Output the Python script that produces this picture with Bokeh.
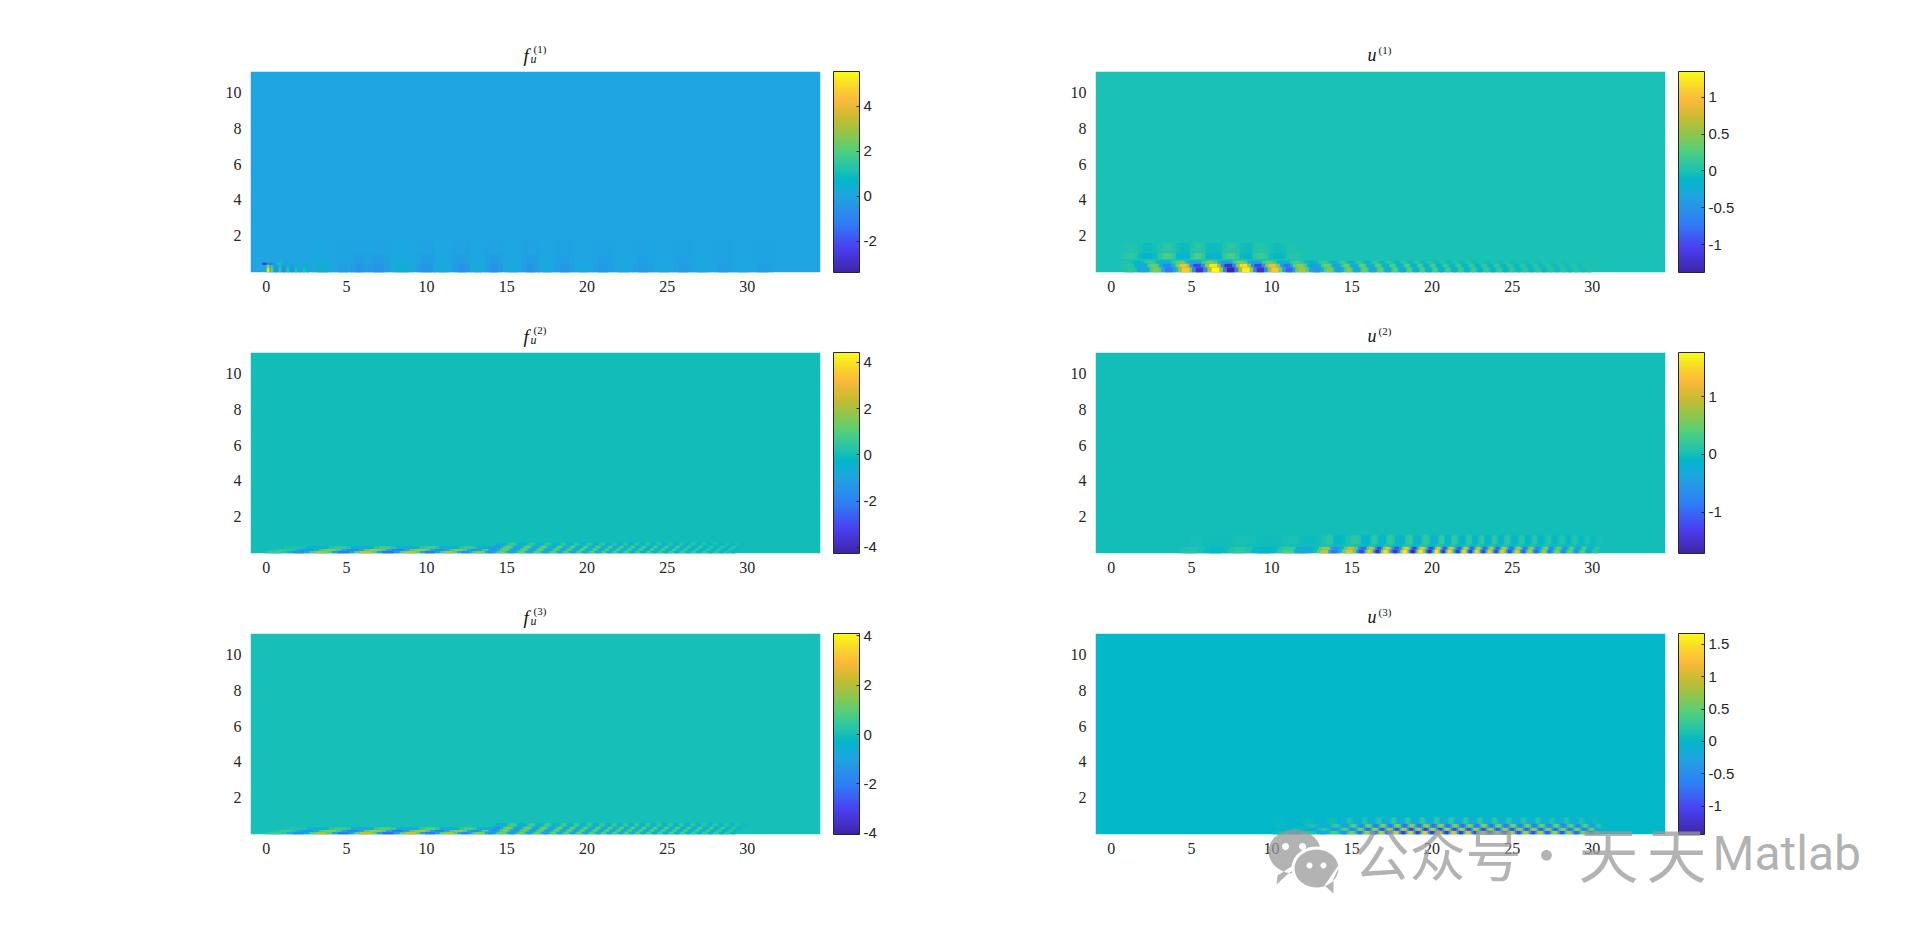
import math
from bokeh.plotting import figure
from bokeh.layouts import column, row
from bokeh.core.properties import value
from bokeh.models import ColumnDataSource, LinearColorMapper, ColorBar, FixedTicker, Range1d
from bokeh.embed import file_html
from bokeh.resources import INLINE
import numpy as np

# ---------- data ----------
X_TICKS = [0, 5, 10, 15, 20, 25, 30]
Y_TICKS = [2, 4, 6, 8, 10]
X_RANGE = (-0.98, 34.56)
Y_RANGE = (-0.05, 11.17)

F1_LIM = (-3.39, 5.54); F1_TICKS = [-2, 0, 2, 4]
U1_LIM = (-1.38, 1.35); U1_TICKS = [-1, -0.5, 0, 0.5, 1]
F2_LIM = (-4.26, 4.42); F2_TICKS = [-4, -2, 0, 2, 4]
U2_LIM = (-1.72, 1.77); U2_TICKS = [-1, 0, 1]
F3_LIM = (-4.05, 4.10); F3_TICKS = [-4, -2, 0, 2, 4]
U3_LIM = (-1.44, 1.67); U3_TICKS = [-1, -0.5, 0, 0.5, 1, 1.5]

# f1: sharp spot next to x=0, then broad faint columns
F1_SPOT_X = [0.12, 0.35, 0.6, 0.85, 1.1, 1.35, 1.6, 1.85, 2.1, 2.35, 2.6]
F1_SPOT_V = [5.0, 2.4, -0.8, 1.5, -1.0, 1.3, -0.7, 1.2, 0.1, 1.2, 0.6]
F1_SPOT_Y = [-0.05, 0.2, 0.38]
F1_SPOT_S = [0.0, 0.0]
F1_SPOT_G = [1.0, 0.7]
F1_LINE_X = [-0.1, 0.3, 0.8, 1.3]
F1_LINE_V = [-3.0, -1.4, 1.2, 0.6]
F1_LINE_Y = [0.38, 0.5]
F1_LINE_S = [0.0]
F1_LINE_G = [1.0]
F1_COL_X = [3.5, 4.8, 5.8, 7.0, 8.5, 10.0, 11.0, 12.2, 13.2, 14.2, 15.4, 16.5, 17.5, 18.6, 19.8, 21.0, 22.3, 23.5, 24.8, 26.0, 27.2, 28.5, 29.7, 31.0]
F1_COL_V = [0.4, -0.2, -0.45, -0.5, 0.4, -0.5, 0.25, -0.5, 0.2, -0.5, 0.2, -0.45, 0.15, -0.4, 0.15, -0.35, 0.1, -0.3, 0.1, -0.25, 0.1, -0.2, 0.08, -0.15]
F1_COL_Y = [-0.05, 0.45, 0.95, 1.8]
F1_COL_S = [0.0, 0.0, 0.0]
F1_COL_G = [1.0, 0.5, 0.16]

U1_X = [1.2, 2.0, 2.8, 3.6, 4.65, 5.5, 6.5, 7.45, 8.4, 9.3, 10.2, 11.1, 11.9, 12.8, 13.6, 14.2, 14.8, 15.3, 15.8, 16.3, 16.8, 17.25, 17.7, 18.15, 18.6, 19.0, 19.4, 19.8, 20.2, 20.6, 21.0, 21.4, 21.8, 22.2, 22.6, 23.0, 23.4, 23.8, 24.2, 24.6, 25.0, 25.4, 25.8, 26.2, 26.6, 27.0, 27.4, 27.8, 28.2, 28.6, 29.0, 29.4, 29.8]
U1_V = [0.1, -0.35, 0.45, -0.75, 1.05, -1.2, 1.35, -1.38, 1.3, -1.2, 1.0, -0.85, 0.6, -0.5, 0.45, -0.45, 0.45, -0.4, 0.4, -0.35, 0.35, -0.3, 0.3, -0.3, 0.3, -0.25, 0.25, -0.25, 0.25, -0.2, 0.2, -0.2, 0.2, -0.18, 0.18, -0.15, 0.15, -0.15, 0.15, -0.12, 0.12, -0.1, 0.1, -0.1, 0.08, -0.08, 0.08, -0.06, 0.06, -0.05, 0.05, -0.03, 0.02]
U1_Y = [-0.05, 0.25, 0.45, 0.6]
U1_S = [0.0, -0.15, -0.35]
U1_G = [1.0, 0.9, 0.35]
U1_LOBE_X = [1.2, 2.25, 3.5, 4.5, 5.4, 6.4, 7.45, 8.5, 9.3, 10.4, 11.4]
U1_LOBE_V = [0.15, -0.2, 0.3, -0.3, 0.3, -0.3, 0.3, -0.25, 0.25, -0.15, 0.1]
U1_LOBE_Y = [0.7, 1.05, 1.6]
U1_LOBE_S = [0.0, 0.0]
U1_LOBE_G = [0.7, 0.25]

F2_X = [0.6, 2.0, 3.4, 4.8, 6.2, 7.6, 9.0, 10.2, 11.4, 12.4, 13.3]
F2_V = [0.8, -2.0, 2.4, -2.8, 3.0, -3.0, 3.0, -2.8, 2.5, -2.3, 2.0]
F2_Y = [-0.05, 0.1, 0.2, 0.36]
F2_S = [0.0, 0.6, 1.2]
F2_G = [0.8, 0.7, 0.25]
F2_T_X = [14.0, 14.7, 15.3, 15.9, 16.4, 16.9, 17.4, 17.9, 18.3, 18.7, 19.1, 19.5, 19.9, 20.3, 20.7, 21.05, 21.4, 21.75, 22.1, 22.45, 22.8, 23.15, 23.5, 23.85, 24.2, 24.55, 24.9, 25.25, 25.6, 25.95, 26.3, 26.65, 27.0, 27.35, 27.7, 28.05, 28.4, 28.75, 29.1]
F2_T_V = [-1.8, 1.7, -1.5, 1.6, -1.4, 1.5, -1.3, 1.4, -1.2, 1.4, -1.2, 1.3, -1.1, 1.3, -1.1, 1.2, -1.0, 1.2, -1.0, 1.2, -0.9, 1.1, -0.9, 1.1, -0.8, 1.0, -0.8, 1.0, -0.7, 0.9, -0.7, 0.8, -0.6, 0.7, -0.5, 0.6, -0.4, 0.4, -0.2]
F2_T_Y = [-0.05, 0.12, 0.25, 0.4, 0.55]
F2_T_S = [0.0, 0.2, 0.4, 0.65]
F2_T_G = [0.8, 0.9, 0.8, 0.35]

F3_X = [0.6, 2.0, 3.4, 4.8, 6.2, 7.6, 9.0, 10.2, 11.4, 12.4, 13.3]
F3_V = [0.8, -1.8, 2.2, -2.6, 2.8, -2.9, 2.9, -2.7, 2.5, -2.3, 2.1]
F3_Y = [-0.05, 0.1, 0.2, 0.36]
F3_S = [0.0, 0.6, 1.2]
F3_G = [0.8, 0.75, 0.3]
F3_T_X = [14.0, 14.7, 15.3, 15.9, 16.4, 16.9, 17.4, 17.9, 18.3, 18.7, 19.1, 19.5, 19.9, 20.3, 20.7, 21.05, 21.4, 21.75, 22.1, 22.45, 22.8, 23.15, 23.5, 23.85, 24.2, 24.55, 24.9, 25.25, 25.6, 25.95, 26.3, 26.65, 27.0, 27.35, 27.7, 28.05, 28.4, 28.75, 29.1]
F3_T_V = [-1.9, 1.8, -1.6, 1.7, -1.5, 1.6, -1.4, 1.5, -1.3, 1.5, -1.3, 1.4, -1.2, 1.4, -1.2, 1.3, -1.1, 1.3, -1.1, 1.3, -1.0, 1.2, -1.0, 1.2, -0.9, 1.1, -0.9, 1.1, -0.8, 1.0, -0.8, 0.9, -0.7, 0.8, -0.6, 0.7, -0.5, 0.5, -0.3]
F3_T_Y = [-0.05, 0.12, 0.25, 0.4, 0.58]
F3_T_S = [0.0, 0.2, 0.4, 0.65]
F3_T_G = [0.8, 0.9, 0.85, 0.4]

U2_X = [5.0, 6.5, 8.0, 9.5, 11.0, 12.0, 13.3, 13.9, 14.85, 15.6, 16.1, 16.6, 17.1, 17.7, 18.3, 18.8, 19.3, 19.85, 20.3, 20.7, 21.1, 21.6, 22.0, 22.4, 22.8, 23.2, 23.6, 24.0, 24.4, 24.85, 25.3, 25.7, 26.1, 26.5, 27.0, 27.35, 27.8, 28.2, 28.6, 29.0, 29.4, 29.75, 30.2]
U2_V = [0.1, -0.1, 0.2, -0.2, 0.35, -0.4, 1.0, -0.9, 1.2, -1.3, 1.3, -1.6, 1.5, -1.5, 1.6, -1.7, 1.6, -1.6, 1.6, -1.5, 1.5, -1.4, 1.4, -1.4, 1.4, -1.3, 1.3, -1.3, 1.3, -1.2, 1.2, -1.1, 1.1, -1.0, 0.9, -0.9, 0.7, -0.8, 0.6, -0.7, 0.45, -0.4, 0.2]
U2_Y = [-0.05, 0.18, 0.34, 0.5, 0.95]
U2_S = [0.0, 0.1, 0.2, 0.3]
U2_G = [1.0, 0.8, 0.05, 0.14]

U3_X = [10.5, 11.5, 12.4, 13.2, 13.9, 14.5, 15.0, 15.5, 15.95, 16.4, 16.85, 17.3, 17.75, 18.2, 18.65, 19.1, 19.55, 20.0, 20.45, 20.9, 21.35, 21.8, 22.25, 22.7, 23.15, 23.6, 24.05, 24.5, 24.95, 25.4, 25.85, 26.3, 26.75, 27.2, 27.65, 28.1, 28.55, 29.0, 29.45, 29.9, 30.3]
U3_V = [0.1, -0.1, 0.25, -0.3, 0.5, -0.6, 0.8, -0.9, 1.1, -1.2, 1.3, -1.3, 1.4, -1.4, 1.5, -1.4, 1.5, -1.4, 1.5, -1.4, 1.4, -1.4, 1.4, -1.3, 1.4, -1.3, 1.3, -1.3, 1.3, -1.2, 1.2, -1.2, 1.2, -1.1, 1.1, -1.1, 1.0, -1.0, 0.9, -0.8, 0.4]
U3_Y = [-0.05, 0.16, 0.34, 0.55, 0.9]
U3_S = [0.0, 0.05, 0.1, -0.15]
U3_G = [0.85, -0.75, 0.55, 0.18]

# ---------- style ----------
STOPS = [0, .12, .25, .33, .38, .46, .49, .505, .6, .68, .77, .86, .93, 1]
HEX = ["#3e26a8", "#4a3fef", "#2f7ff7", "#2596e6", "#1fa5e2", "#02b7ca", "#11bdb9", "#1ac1b5", "#4dcf80", "#88c850", "#c8bb30", "#fdb93a", "#f8d92a", "#f9fb15"]
rgb = np.array([[int(h[i:i+2], 16) for i in (1, 3, 5)] for h in HEX], float)
t = np.linspace(0, 1, 256)
PAL = ["#%02x%02x%02x" % tuple(int(round(np.interp(a, STOPS, rgb[:, k]))) for k in range(3)) for a in t]

FRAME_W, FRAME_H = 570, 201
PAGE_W, PAGE_H = 1900, 914
SERIF, SANS = "Liberation Serif", "Liberation Sans"
INK = "#262626"


def layer(cells, xs, vs, ys, shifts, gains):
    n = len(xs)
    for b in range(len(gains)):
        for frac, amp in ((2, 0.5), (4, 1.0)):
            for i in range(n):
                lo = xs[i] - (xs[i] - xs[i-1]) / 2 if i else xs[i] - (xs[1] - xs[0]) / 2
                hi = xs[i] + (xs[i+1] - xs[i]) / 2 if i < n - 1 else xs[i] + (xs[i] - xs[i-1]) / 2
                c, hw = xs[i] + shifts[b], (hi - lo) / frac
                cells["left"].append(c - hw); cells["right"].append(c + hw)
                cells["bottom"].append(ys[b]); cells["top"].append(ys[b+1])
                cells["v"].append(vs[i] * gains[b] * amp)


def panel(layers, lim, ticks, mt, mb, ml, mr):
    cells = dict(left=[X_RANGE[0]], right=[X_RANGE[1]], bottom=[Y_RANGE[0]], top=[Y_RANGE[1]], v=[0.0])
    for args in layers:
        layer(cells, *args)
    p = figure(frame_width=FRAME_W, frame_height=FRAME_H, output_backend="svg", toolbar_location=None,
               x_range=Range1d(*X_RANGE), y_range=Range1d(*Y_RANGE),
               min_border_top=mt, min_border_bottom=mb, min_border_left=ml, min_border_right=mr)
    mapper = LinearColorMapper(palette=PAL, low=lim[0], high=lim[1])
    p.quad(left="left", right="right", bottom="bottom", top="top", source=ColumnDataSource(cells),
           fill_color={"field": "v", "transform": mapper}, line_color=None)
    p.grid.visible = False
    p.outline_line_color = None
    for ax, tk in ((p.xaxis[0], X_TICKS), (p.yaxis[0], Y_TICKS)):
        ax.ticker = FixedTicker(ticks=tk)
        ax.axis_line_color = None
        ax.major_tick_line_color = None
        ax.minor_tick_line_color = None
        ax.major_label_text_font = SERIF
        ax.major_label_text_font_size = "16px"
        ax.major_label_text_color = INK
    p.xaxis[0].major_label_standoff = 2
    p.yaxis[0].major_label_standoff = 3
    cb = ColorBar(color_mapper=mapper, ticker=FixedTicker(ticks=ticks), location=(13, 0), width=26, height=FRAME_H,
                  margin=0, padding=0, major_tick_line_color=INK, major_tick_in=3, major_tick_out=0,
                  minor_tick_line_color=None, bar_line_color=INK, bar_line_width=1, border_line_color=None,
                  background_fill_color=None, major_label_text_font=SANS, major_label_text_font_size="15px",
                  major_label_text_color=INK, label_standoff=4,
                  major_label_overrides={k: str(k) for k in ticks})
    p.add_layout(cb, "right")
    return p


ROW1 = dict(mt=71, mb=40)
ROW2 = dict(mt=40, mb=40)
ROW3 = dict(mt=40, mb=80)
L = dict(ml=250, mr=180)
R = dict(ml=95, mr=235)

f1 = panel([(F1_COL_X, F1_COL_V, F1_COL_Y, F1_COL_S, F1_COL_G),
            (F1_SPOT_X, F1_SPOT_V, F1_SPOT_Y, F1_SPOT_S, F1_SPOT_G),
            (F1_LINE_X, F1_LINE_V, F1_LINE_Y, F1_LINE_S, F1_LINE_G)], F1_LIM, F1_TICKS, **ROW1, **L)
u1 = panel([(U1_LOBE_X, U1_LOBE_V, U1_LOBE_Y, U1_LOBE_S, U1_LOBE_G),
            (U1_X, U1_V, U1_Y, U1_S, U1_G)], U1_LIM, U1_TICKS, **ROW1, **R)
f2 = panel([(F2_X, F2_V, F2_Y, F2_S, F2_G), (F2_T_X, F2_T_V, F2_T_Y, F2_T_S, F2_T_G)], F2_LIM, F2_TICKS, **ROW2, **L)
u2 = panel([(U2_X, U2_V, U2_Y, U2_S, U2_G)], U2_LIM, U2_TICKS, **ROW2, **R)
f3 = panel([(F3_X, F3_V, F3_Y, F3_S, F3_G), (F3_T_X, F3_T_V, F3_T_Y, F3_T_S, F3_T_G)], F3_LIM, F3_TICKS, **ROW3, **L)
u3 = panel([(U3_X, U3_V, U3_Y, U3_S, U3_G)], U3_LIM, U3_TICKS, **ROW3, **R)

# transparent sheet over the whole page: titles and watermark, in page pixels
ov = figure(width=PAGE_W, height=PAGE_H, x_range=Range1d(0, PAGE_W), y_range=Range1d(PAGE_H, 0),
            output_backend="svg", toolbar_location=None, x_axis_type=None, y_axis_type=None,
            min_border=0, background_fill_alpha=0, border_fill_alpha=0, outline_line_color=None,
            margin=(-PAGE_H, 0, 0, 0))
ov.grid.visible = False


def put(txt, px, py, size, style="normal", font=SERIF, color="#111111", alpha=1.0):
    ov.text(x=[px], y=[py], text=[txt], text_font=value(font), text_font_size=value(f"{size}px"),
            text_font_style=style, text_color=color, text_alpha=alpha, text_baseline="alphabetic")


def blob(cx, cy, rx, ry, color, alpha, tail=None):
    pts = [(cx + rx * math.cos(a / 40 * 2 * math.pi), cy + ry * math.sin(a / 40 * 2 * math.pi)) for a in range(40)]
    if tail:
        pts = tail + pts
    ov.patch([q[0] for q in pts], [q[1] for q in pts], fill_color=color, fill_alpha=alpha, line_color=None)


for n, top in enumerate((71, 352, 633), 1):
    put("f", 523, top - 16, 19, "italic")
    put("u", 530, top - 13, 12, "italic")
    put(f"({n})", 533, top - 23, 11)
    put("u", 1367, top - 17, 18, "italic")
    put(f"({n})", 1378, top - 22, 11)

GR, GA = "#999999", 0.75
blob(1294, 851, 26, 22, GR, GA, tail=[(1277, 875), (1276, 884), (1288, 873)])
blob(1316, 868, 25, 22, "#ffffff", 1.0)
blob(1316, 868, 22, 19, GR, GA, tail=[(1324, 885), (1333, 893), (1333, 878)])
for cx, cy, r in ((1285, 846, 3.5), (1302, 846, 3.5), (1309, 865, 3), (1323, 865, 3)):
    blob(cx, cy, r, r, "#ffffff", 1.0)
put("公众号", 1353, 851, 56, font="Noto Sans CJK SC", color=GR, alpha=GA)
put("·", 1521, 851, 50, font="Noto Sans CJK SC", color=GR, alpha=GA)
put("天", 1578, 851, 60, font="Noto Sans CJK SC", color=GR, alpha=GA)
put("天", 1646, 851, 60, font="Noto Sans CJK SC", color=GR, alpha=GA)
put("Matlab", 1712, 853, 48, font="Roboto", color=GR, alpha=GA)

page = column(row(f1, u1, spacing=0), row(f2, u2, spacing=0), row(f3, u3, spacing=0), ov, spacing=0)
open("out.html", "w").write(file_html(page, INLINE))
